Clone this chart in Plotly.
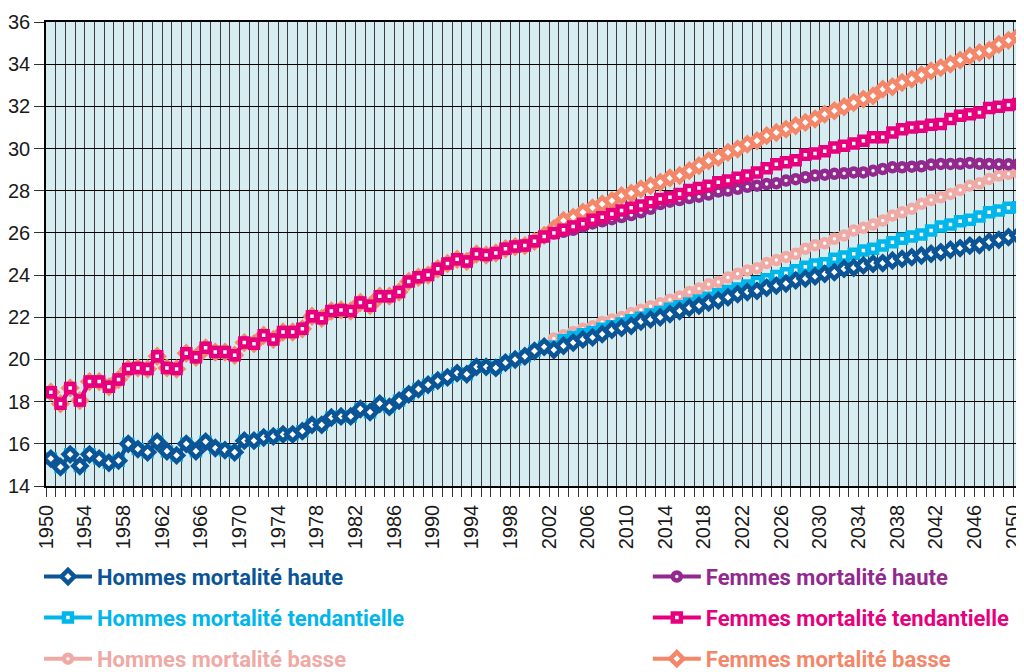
import plotly.graph_objects as go

years = list(range(1950, 2051))

# observed 1950-2000 (identical in the three scenarios)
hommes_obs = [15.3, 14.9, 15.5, 14.95, 15.5, 15.3, 15.1, 15.2, 16.0, 15.75,
              15.6, 16.1, 15.65, 15.45, 16.0, 15.65, 16.1, 15.8, 15.7, 15.6,
              16.15, 16.15, 16.3, 16.35, 16.45, 16.45, 16.6, 16.9, 16.9, 17.25,
              17.3, 17.3, 17.65, 17.5, 17.9, 17.75, 18.05, 18.35, 18.6, 18.8,
              19.0, 19.15, 19.35, 19.3, 19.65, 19.65, 19.6, 19.85, 20.0, 20.15,
              20.4]
femmes_obs = [18.45, 17.9, 18.65, 18.05, 18.95, 18.95, 18.7, 19.05, 19.55, 19.6,
              19.55, 20.15, 19.6, 19.55, 20.3, 20.1, 20.55, 20.35, 20.35, 20.2,
              20.8, 20.75, 21.15, 20.95, 21.3, 21.3, 21.45, 22.05, 21.95, 22.3,
              22.35, 22.3, 22.7, 22.55, 23.0, 23.0, 23.2, 23.7, 23.9, 24.0,
              24.3, 24.55, 24.75, 24.65, 25.0, 24.95, 25.05, 25.25, 25.35, 25.4,
              25.6]

# projections 2001-2050
h_haute = [20.6, 20.45, 20.65, 20.8, 20.95, 21.05, 21.2, 21.4, 21.5, 21.6,
           21.8, 21.9, 22.0, 22.15, 22.3, 22.45, 22.55, 22.7, 22.8, 22.95,
           23.1, 23.2, 23.25, 23.4, 23.5, 23.6, 23.75, 23.83, 23.94, 24.06,
           24.14, 24.3, 24.35, 24.46, 24.54, 24.57, 24.69, 24.77, 24.85, 24.93,
           25.01, 25.09, 25.2, 25.28, 25.4, 25.42, 25.58, 25.67, 25.8, 25.88]
h_tend = [20.6, 20.6, 20.91, 21.07, 21.19, 21.3, 21.46, 21.57, 21.7, 21.86,
          21.98, 22.13, 22.25, 22.41, 22.52, 22.65, 22.8, 22.93, 23.09, 23.24,
          23.36, 23.51, 23.67, 23.8, 23.96, 24.09, 24.23, 24.39, 24.5, 24.56,
          24.77, 24.88, 25.01, 25.17, 25.25, 25.4, 25.56, 25.72, 25.83, 25.92,
          26.11, 26.3, 26.4, 26.55, 26.62, 26.78, 26.98, 27.06, 27.19, 27.22]
h_basse = [20.65, 20.99, 21.15, 21.3, 21.46, 21.57, 21.78, 21.89, 22.01, 22.2,
           22.36, 22.52, 22.67, 22.83, 22.99, 23.2, 23.36, 23.56, 23.67, 23.88,
           24.06, 24.22, 24.33, 24.57, 24.71, 24.86, 25.01, 25.25, 25.42, 25.51,
           25.72, 25.88, 26.11, 26.24, 26.4, 26.59, 26.82, 26.98, 27.14, 27.38,
           27.56, 27.69, 27.85, 28.04, 28.24, 28.35, 28.56, 28.72, 28.8, 28.87]
f_haute = [25.8, 25.97, 26.05, 26.15, 26.3, 26.45, 26.55, 26.65, 26.75, 26.85,
           26.98, 27.14, 27.37, 27.48, 27.56, 27.65, 27.72, 27.82, 27.96, 28.01,
           28.09, 28.19, 28.24, 28.32, 28.35, 28.48, 28.55, 28.64, 28.72, 28.76,
           28.8, 28.83, 28.87, 28.87, 28.95, 29.03, 29.11, 29.11, 29.14, 29.16,
           29.24, 29.27, 29.27, 29.28, 29.32, 29.28, 29.27, 29.26, 29.25, 29.25]
f_tend = [25.83, 25.99, 26.15, 26.3, 26.43, 26.62, 26.74, 26.9, 27.06, 27.19,
          27.3, 27.45, 27.61, 27.69, 27.85, 28.04, 28.13, 28.24, 28.4, 28.48,
          28.61, 28.72, 28.87, 29.07, 29.25, 29.35, 29.44, 29.71, 29.77, 29.87,
          30.05, 30.13, 30.24, 30.37, 30.53, 30.53, 30.76, 30.92, 31.0, 31.03,
          31.13, 31.16, 31.4, 31.55, 31.63, 31.71, 31.92, 31.98, 32.07, 32.11]
f_basse = [25.88, 26.2, 26.59, 26.74, 26.98, 27.19, 27.37, 27.53, 27.77, 27.88,
           28.09, 28.24, 28.4, 28.61, 28.72, 28.95, 29.19, 29.42, 29.58, 29.82,
           29.98, 30.21, 30.37, 30.61, 30.76, 30.92, 31.08, 31.24, 31.4, 31.63,
           31.79, 31.98, 32.18, 32.34, 32.5, 32.82, 32.93, 33.13, 33.29, 33.49,
           33.68, 33.84, 34.0, 34.19, 34.39, 34.55, 34.66, 34.94, 35.13, 35.34]

# (label, values, colour, symbol, legend, rank) - drawn in this order
series = [
    ("Hommes mortalité basse", hommes_obs + h_basse, "#efaaa5", "circle", "legend", 3),
    ("Hommes mortalité tendantielle", hommes_obs + h_tend, "#00b6ea", "square", "legend", 2),
    ("Hommes mortalité haute", hommes_obs + h_haute, "#0b5597", "diamond", "legend", 1),
    ("Femmes mortalité basse", femmes_obs + f_basse, "#f4876a", "diamond", "legend2", 3),
    ("Femmes mortalité haute", femmes_obs + f_haute, "#93298f", "circle", "legend2", 1),
    ("Femmes mortalité tendantielle", femmes_obs + f_tend, "#e6007e", "square", "legend2", 2),
]

sizes = {"diamond": 10, "square": 8, "circle": 8}

fig = go.Figure()
for label, vals, col, sym, leg, rank in series:
    fig.add_trace(go.Scatter(
        x=years, y=vals, mode="lines+markers",
        name=f"<span style='color:{col}'><b>{label}</b></span>",
        line=dict(color=col, width=4),
        marker=dict(symbol=sym, size=sizes[sym], color="white",
                    line=dict(color=col, width=4.5)),
        legend=leg, legendrank=rank, legendgroup=label,
    ))

bounds = [y - 0.5 for y in years] + [years[-1] + 0.5]
labels = [str(y) if (y - 1950) % 4 == 0 else "" for y in years] + [""]

legend_font = dict(family="Roboto", size=22)

# the page body adds an 8px offset, so the figure is sized to the visible area
fig.update_layout(
    width=1016, height=664,
    margin=dict(l=38, r=1, t=14, b=186),
    paper_bgcolor="white",
    plot_bgcolor="#d6ecf0",
    font=dict(family="Liberation Sans, Arial", size=20, color="#1a1a1a"),
    xaxis=dict(range=[1949.5, 2050.5], tickmode="array", tickvals=bounds,
               ticktext=labels, tickangle=-90, ticks="outside", ticklen=9,
               tickcolor="#333", showgrid=True, gridcolor="#3c3c3c", gridwidth=1,
               showline=True, linecolor="black", linewidth=1.5, mirror=True,
               zeroline=False, automargin=False, tickfont=dict(size=20)),
    yaxis=dict(range=[14, 36], dtick=2, ticks="outside", ticklen=10,
               tickcolor="#333", showgrid=True, gridcolor="black", gridwidth=1,
               showline=True, linecolor="black", linewidth=1.5, mirror=True,
               zeroline=False, automargin=False, tickfont=dict(size=20)),
    legend=dict(xref="paper", yref="container", x=-0.0072, y=0.1752,
                xanchor="left", yanchor="top",
                traceorder="grouped", tracegroupgap=9.5, itemwidth=48,
                font=legend_font, bgcolor="rgba(0,0,0,0)"),
    legend2=dict(xref="paper", yref="container", x=0.616, y=0.1752,
                 xanchor="left", yanchor="top",
                 traceorder="grouped", tracegroupgap=9.5, itemwidth=48,
                 font=legend_font, bgcolor="rgba(0,0,0,0)"),
)

fig.write_html("out.html")
